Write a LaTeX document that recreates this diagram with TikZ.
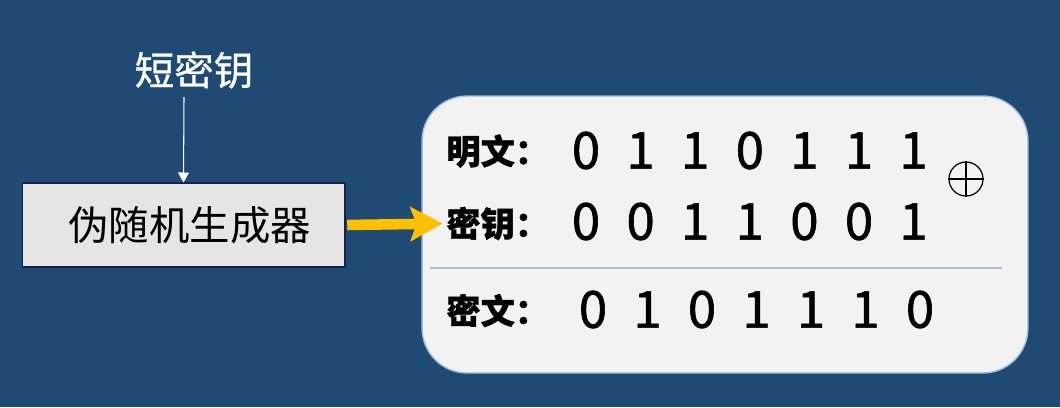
\documentclass[tikz,border=0pt]{standalone}
\usepackage{fontspec}
\setmainfont{Noto Sans CJK SC}
\newfontfamily\heavyfont{Noto Sans CJK SC}[BoldFeatures={FakeBold=1}]
\newfontfamily\bitfont{Noto Sans CJK SC}[FakeBold=1.2]
\newfontfamily\titlefont{Noto Sans CJK SC}[FakeBold=0.8]
\usetikzlibrary{arrows.meta}
\definecolor{bgblue}{RGB}{31,74,116}
\definecolor{boxgray}{RGB}{229,229,229}
\definecolor{boxedge}{RGB}{22,32,72}
\definecolor{panelgray}{RGB}{242,242,242}
\definecolor{paneledge}{RGB}{160,190,220}
\definecolor{sepblue}{RGB}{168,190,212}
\definecolor{arrowyellow}{RGB}{255,192,0}
\tikzset{
    bit/.style={font=\bitfont\fontsize{29}{29}\selectfont, inner sep=0pt},
    rowlabel/.style={font=\heavyfont\bfseries\fontsize{19.5}{19.5}\selectfont, inner sep=0pt, anchor=west}
}

\begin{document}
\begin{tikzpicture}[x=0.02cm,y=-0.02cm]
            \fill[bgblue] (0,0) rectangle (1060,407);
            % generator and its key
            \node[text=white, font=\titlefont\fontsize{22.5}{22.5}\selectfont] (short) at (194,70) {短密钥};
            \coordinate (keytop) at (184,97);
            \node[draw=boxedge, fill=boxgray, line width=0.6pt, minimum width=6.46cm, minimum height=1.68cm,
                  font=\fontsize{23}{23}\selectfont] (gen) at (183.5,225) {\hspace*{0.25cm}伪随机生成器};
            % xor panel
            \node[draw=paneledge, fill=panelgray, line width=0.8pt, rounded corners=0.9cm,
                  minimum width=12.12cm, minimum height=5.54cm] (panel) at (725,234.5) {};
            \begin{scope}[every node/.style={rowlabel}]
                \node (plain) at (446,151) {明文：};
                \node (key) at (446,223.5) {密钥：};
                \node (cipher) at (446,310.5) {密文：};
            \end{scope}
            \foreach \d [count=\i] in {0,1,1,0,1,1,1}
                \node[bit] (p\i) at (586+54.6*\i-54.6,150.5) {\d};
            \foreach \d [count=\i] in {0,0,1,1,0,0,1}
                \node[bit] (k\i) at (586+54.6*\i-54.6,221.5) {\d};
            \foreach \d [count=\i] in {0,1,0,1,1,1,0}
                \node[bit] (c\i) at (593+54.5*\i-54.5,309.5) {\d};
            \node[circle, draw=black, line width=0.7pt, minimum size=0.68cm, inner sep=0pt] (xor) at (966,179) {};
            \draw[line width=0.7pt] (xor.north) -- (xor.south);
            \draw[line width=0.7pt] (xor.west) -- (xor.east);
            \coordinate (sepl) at (430,268);
            \coordinate (sepr) at (1002,268);
            \draw[sepblue, line width=0.8pt] (sepl) -- (sepr);
            % connectors
            \draw (keytop) edge [-{Triangle[length=0.2cm,width=0.22cm]}, white, line width=0.6pt] (gen.north);
            \draw (gen.east) edge [-{Stealth[length=0.64cm,width=0.68cm,inset=0.12cm]}, arrowyellow, line width=6pt,
                  shorten <=1pt, shorten >=2pt] (key.west);
        \end{tikzpicture}
\end{document}
